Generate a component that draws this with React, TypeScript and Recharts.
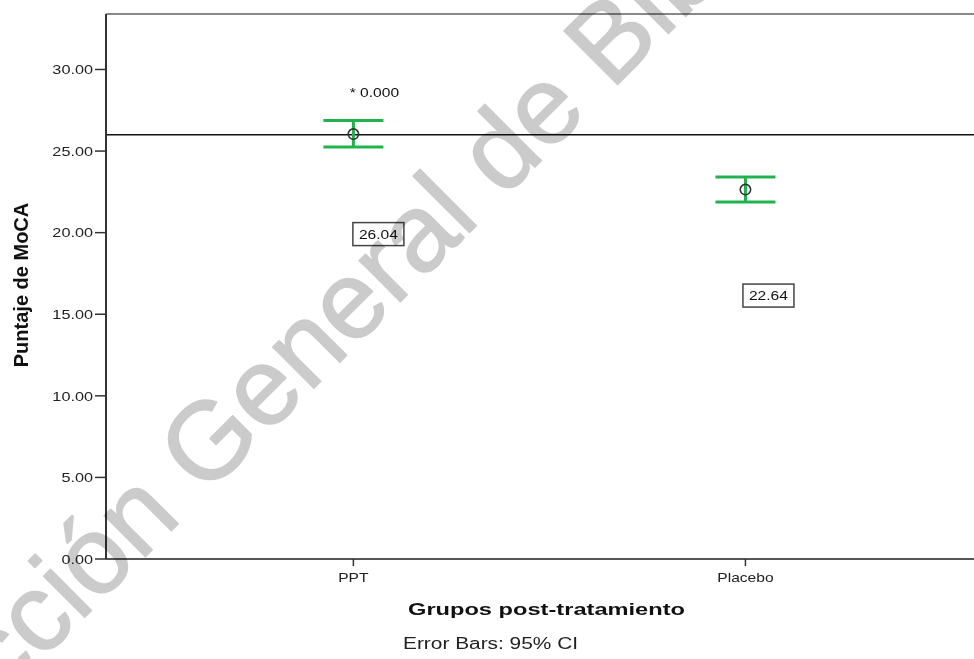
import React from 'react';
import {
  ComposedChart,
  Scatter,
  XAxis,
  YAxis,
  ErrorBar,
  ReferenceLine,
  ReferenceDot,
} from 'recharts';

// ---- data ----
const categories = ['PPT', 'Placebo'];
const means = [26.04, 22.64];
const ciLower = [25.25, 21.88];
const ciUpper = [26.88, 23.41];
const meanLabels = ['26.04', '22.64'];
const significanceLabels = ['* 0.000', ''];
const yTicks = [0, 5, 10, 15, 20, 25, 30];
const referenceValue = 26;
const yMax = 33.4;

// ---- layout (pixel offsets of annotations relative to each mean point) ----
const meanLabelOffsets = [
  { dx: 25, dy: 100 },
  { dx: 23, dy: 106 },
];
const sigLabelOffset = { dx: 21, dy: -37 };

const FONT = '"Liberation Sans", Arial, Helvetica, sans-serif';
const GREEN = '#22b14c';

const rows = categories.map((c, i) => ({
  x: i + 1,
  name: c,
  mean: means[i],
  err: [means[i] - ciLower[i], ciUpper[i] - means[i]],
}));

const YTick = (props: any) => {
  const { x, y, payload } = props;
  return (
    <text
      transform={`translate(${x},${y}) scale(1.25,1)`}
      textAnchor="end"
      dy="0.36em"
      fontSize={13}
      fontFamily={FONT}
      fill="#222"
    >
      {Number(payload.value).toFixed(2)}
    </text>
  );
};

const XTick = (props: any) => {
  const { x, y, payload } = props;
  return (
    <text
      transform={`translate(${x},${y}) scale(1.2,1)`}
      textAnchor="middle"
      dy="0.71em"
      fontSize={13}
      fontFamily={FONT}
      fill="#222"
    >
      {categories[Math.round(payload.value) - 1]}
    </text>
  );
};

const MeanShape = (props: any) => {
  const { cx, cy } = props;
  return <circle cx={cx} cy={cy} r={5.2} fill="none" stroke="#333" strokeWidth={1.6} />;
};

const makeMeanLabel = (i: number) => (props: any) => {
  const vb = props.viewBox || {};
  const cx = (vb.x ?? 0) + (vb.width ?? 0) / 2;
  const cy = (vb.y ?? 0) + (vb.height ?? 0) / 2;
  const bx = cx + meanLabelOffsets[i].dx;
  const by = cy + meanLabelOffsets[i].dy;
  const w = 51;
  const h = 23;
  const sig = significanceLabels[i];
  return (
    <g>
      <rect x={bx - w / 2} y={by - h / 2} width={w} height={h} fill="#fff" stroke="#444" strokeWidth={1.5} />
      <text
        transform={`translate(${bx},${by}) scale(1.2,1)`}
        textAnchor="middle"
        dy="0.36em"
        fontSize={13}
        fontFamily={FONT}
        fill="#111"
      >
        {meanLabels[i]}
      </text>
      {sig ? (
        <text
          transform={`translate(${cx + sigLabelOffset.dx},${cy + sigLabelOffset.dy}) scale(1.2,1)`}
          textAnchor="middle"
          fontSize={13}
          fontFamily={FONT}
          fill="#111"
        >
          {sig}
        </text>
      ) : null}
    </g>
  );
};

const YLabel = () => (
  <text
    x={28}
    y={285}
    transform="rotate(-90 28 285)"
    textAnchor="middle"
    fontSize={20}
    fontWeight="bold"
    fontFamily={FONT}
    fill="#111"
  >
    Puntaje de MoCA
  </text>
);

const XLabel = () => (
  <g>
    <text
      x={408}
      y={615}
      textLength={277}
      lengthAdjust="spacingAndGlyphs"
      fontSize={17}
      fontWeight="bold"
      fontFamily={FONT}
      fill="#111"
    >
      Grupos post-tratamiento
    </text>
    <text
      x={403}
      y={649}
      textLength={175}
      lengthAdjust="spacingAndGlyphs"
      fontSize={16}
      fontFamily={FONT}
      fill="#222"
    >
      Error Bars: 95% CI
    </text>
  </g>
);

export default function App() {
  return (
    <div style={{ position: 'absolute', left: 0, top: 0, width: 974, height: 659, background: '#fff' }}>
      <ComposedChart
        width={974}
        height={659}
        data={rows}
        margin={{ top: 14, right: 0, bottom: 0, left: 0 }}
      >
        <XAxis
          type="number"
          dataKey="x"
          domain={[0.369, 2.583]}
          ticks={[1, 2]}
          allowDataOverflow
          tick={<XTick />}
          tickSize={7}
          tickMargin={7}
          tickLine={{ stroke: '#333', strokeWidth: 1.5 }}
          axisLine={{ stroke: '#555', strokeWidth: 2 }}
          height={100}
          label={<XLabel />}
        />
        <YAxis
          type="number"
          domain={[0, yMax]}
          ticks={yTicks}
          allowDataOverflow
          width={106}
          tick={<YTick />}
          tickSize={11}
          tickMargin={2}
          tickLine={{ stroke: '#333', strokeWidth: 1.5 }}
          axisLine={{ stroke: '#333', strokeWidth: 2 }}
          label={<YLabel />}
        />
        <ReferenceLine y={yMax} stroke="#888" strokeWidth={2} />
        <ReferenceLine y={referenceValue} stroke="#111" strokeWidth={1.5} />
        <Scatter dataKey="mean" isAnimationActive={false} shape={<MeanShape />}>
          <ErrorBar dataKey="err" direction="y" width={30} stroke={GREEN} strokeWidth={3} isAnimationActive={false} />
        </Scatter>
        {rows.map((r, i) => (
          <ReferenceDot
            key={r.name}
            x={r.x}
            y={r.mean}
            r={0}
            fill="none"
            stroke="none"
            label={makeMeanLabel(i)}
          />
        ))}
      </ComposedChart>
      <svg
        width={974}
        height={659}
        style={{ position: 'absolute', left: 0, top: 0, pointerEvents: 'none', mixBlendMode: 'multiply' }}
      >
        <text
          transform="translate(-141,843) rotate(-45)"
          x={0}
          y={0}
          fontSize={110}
          fontFamily={FONT}
          fill="#cbcbcb"
          stroke="#cbcbcb"
          strokeWidth={1.5}
          strokeLinejoin="round"
        >
          Dirección General de Bibliotecas
        </text>
      </svg>
    </div>
  );
}
